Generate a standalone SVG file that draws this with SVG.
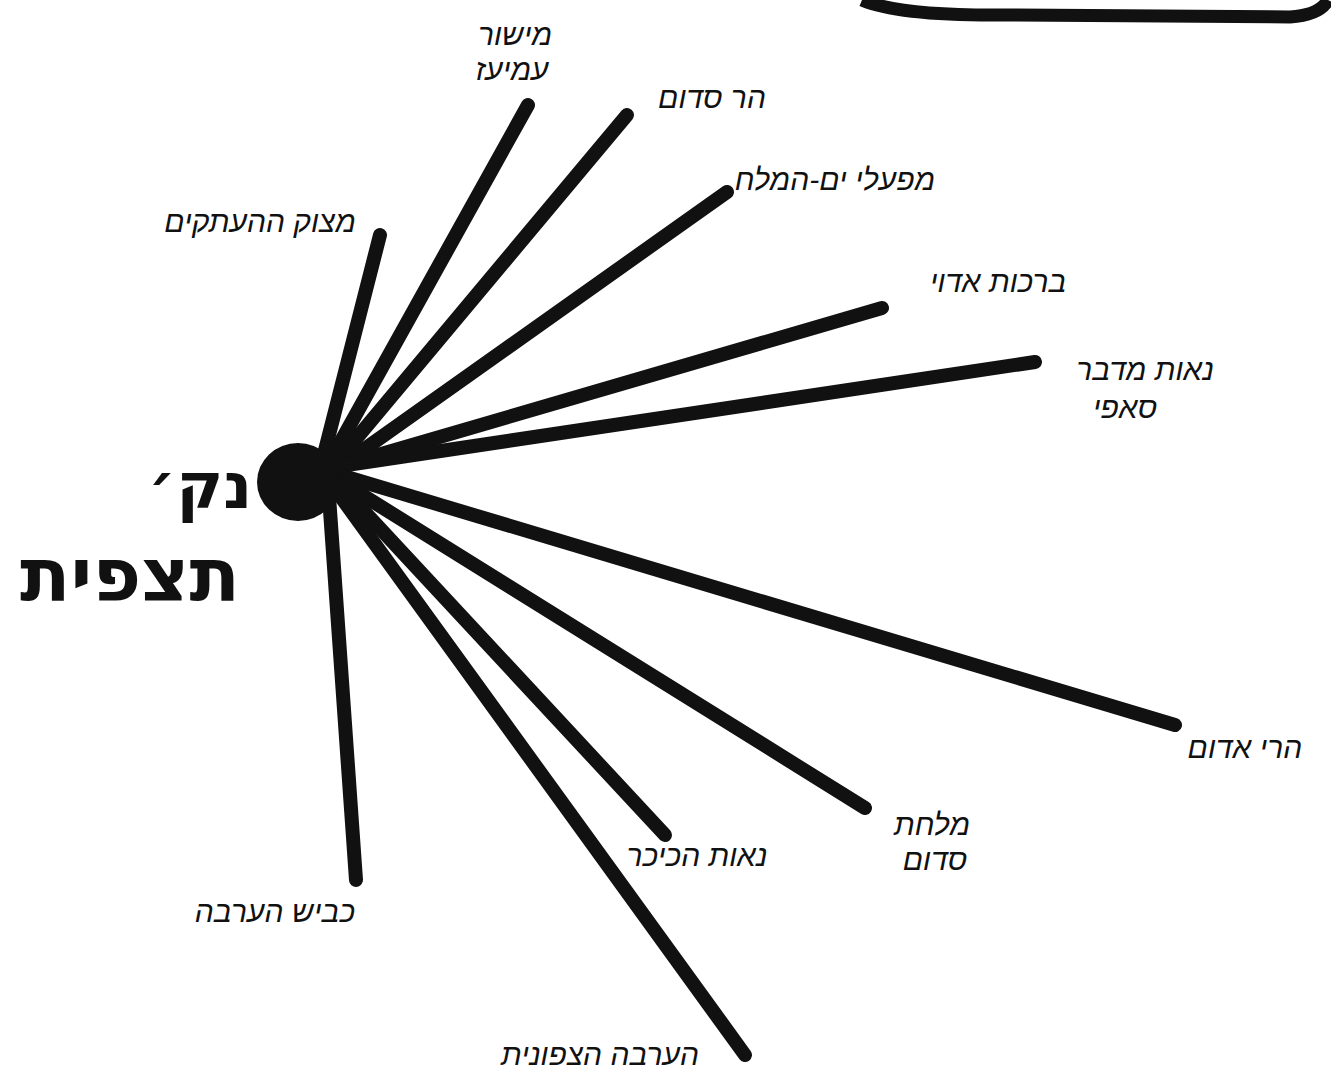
<svg xmlns="http://www.w3.org/2000/svg" width="1331" height="1076" viewBox="0 0 1331 1076">
<style>
.ray{stroke:#111;stroke-width:14;stroke-linecap:round;fill:none}
.lbl{font-family:"Liberation Sans","DejaVu Sans",sans-serif;font-size:30px;fill:#111;text-anchor:middle;font-style:italic}
.big{font-family:"DejaVu Sans","Liberation Sans",sans-serif;font-weight:bold;fill:#111;text-anchor:middle}
</style>
<rect width="1331" height="1076" fill="#fff"/>
<path d="M 862 0 Q 900 16 1005 15 L 1290 17 Q 1320 15 1328 0" fill="none" stroke="#111" stroke-width="13"/>
<g id="connectors">
<line class="ray" x1="320" y1="470" x2="380" y2="235"/>
<line class="ray" x1="325" y1="470" x2="528" y2="105"/>
<line class="ray" x1="330" y1="470" x2="627" y2="115"/>
<line class="ray" x1="335" y1="470" x2="727" y2="192"/>
<line class="ray" x1="340" y1="466" x2="882" y2="308"/>
<line class="ray" x1="340" y1="466" x2="1035" y2="362"/>
<line class="ray" x1="340" y1="475" x2="1175" y2="725"/>
<line class="ray" x1="335" y1="478" x2="865" y2="808"/>
<line class="ray" x1="335" y1="480" x2="665" y2="835"/>
<line class="ray" x1="330" y1="482" x2="745" y2="1055"/>
<line class="ray" x1="328" y1="482" x2="356" y2="880"/>
</g>
<g id="center">
<ellipse cx="298" cy="482" rx="41" ry="39" fill="#111"/>
<text class="big" x="200" y="508" font-size="64">נק׳</text>
<text class="big" x="130" y="600" font-size="74">תצפית</text>
</g>
<g id="n-mishor"><text class="lbl" x="515" y="45">מישור</text><text class="lbl" x="512" y="80">עמיעז</text></g>
<g id="n-sdom"><text class="lbl" x="712" y="108">הר סדום</text></g>
<g id="n-mifalei"><text class="lbl" x="835" y="190">מפעלי ים-המלח</text></g>
<g id="n-mazok"><text class="lbl" x="260" y="232">מצוק ההעתקים</text></g>
<g id="n-brechot"><text class="lbl" x="998" y="292">ברכות אדוי</text></g>
<g id="n-safi"><text class="lbl" x="1145" y="380">נאות מדבר</text><text class="lbl" x="1125" y="418">סאפי</text></g>
<g id="n-edom"><text class="lbl" x="1245" y="758">הרי אדום</text></g>
<g id="n-melachat"><text class="lbl" x="932" y="835">מלחת</text><text class="lbl" x="935" y="870">סדום</text></g>
<g id="n-kikar"><text class="lbl" x="697" y="866">נאות הכיכר</text></g>
<g id="n-kvish"><text class="lbl" x="275" y="922">כביש הערבה</text></g>
<g id="n-arava"><text class="lbl" x="600" y="1065">הערבה הצפונית</text></g>
</svg>
